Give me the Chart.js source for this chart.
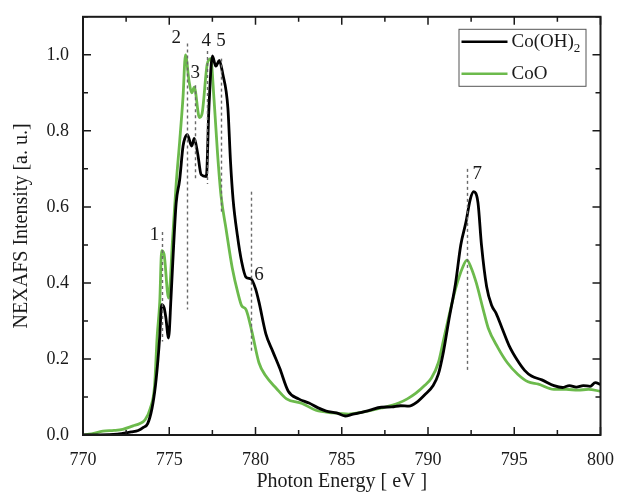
<!DOCTYPE html>
<html>
<head>
<meta charset="utf-8">
<script src="https://cdn.jsdelivr.net/npm/chart.js@4/dist/chart.umd.min.js"></script>
<style>
  html, body { margin: 0; padding: 0; background: #fff; }
  #wrap { width: 620px; height: 494px; }
</style>
</head>
<body>
<div id="wrap"><canvas id="nexafs"></canvas></div>
<script>
// Co L-edge NEXAFS spectra: Co(OH)2 vs CoO
const energyOH = [770, 771, 772, 772.3, 772.8, 773.2, 773.5, 773.75, 774.0, 774.2,
  774.35, 774.45, 774.56, 774.7, 774.8, 774.96, 775.1, 775.2, 775.4, 775.6,
  775.8, 775.9, 776.05, 776.3, 776.45, 776.65, 776.85, 777.15, 777.3, 777.5,
  777.7, 777.9, 778.1, 778.4, 778.55, 778.7, 778.95, 779.2, 779.45, 779.75,
  780.0, 780.2, 780.6, 781.0, 781.4, 781.9, 782.5, 783.1, 783.6, 784.1,
  784.7, 785.2, 785.6, 786.0, 786.6, 787.3, 787.9, 788.4, 788.9, 789.4,
  789.8, 790.3, 790.6, 790.9, 791.2, 791.6, 791.9, 792.2, 792.45, 792.65,
  792.9, 793.1, 793.4, 793.7, 793.95, 794.3, 794.7, 795.2, 795.6, 796.0,
  796.6, 797.3, 797.8, 798.2, 798.6, 799.0, 799.4, 799.7, 800];
const intensityOH = [0, 0, 0.002, 0.004, 0.008, 0.012, 0.02, 0.03, 0.07, 0.13,
  0.2, 0.26, 0.343, 0.335, 0.31, 0.255, 0.36, 0.45, 0.61, 0.67,
  0.76, 0.78, 0.79, 0.76, 0.78, 0.74, 0.685, 0.68, 0.86, 0.997,
  0.97, 0.985, 0.95, 0.86, 0.72, 0.62, 0.525, 0.455, 0.415, 0.41,
  0.385, 0.35, 0.266, 0.22, 0.176, 0.115, 0.095, 0.084, 0.072, 0.063,
  0.058, 0.05, 0.054, 0.058, 0.065, 0.073, 0.074, 0.077, 0.076, 0.088,
  0.105, 0.13, 0.16, 0.22, 0.30, 0.40, 0.50, 0.56, 0.62, 0.64,
  0.61, 0.50, 0.39, 0.34, 0.32, 0.28, 0.235, 0.195, 0.17, 0.155,
  0.145, 0.13, 0.125, 0.13, 0.126, 0.13, 0.128, 0.138, 0.133];

const energyCoO = [770, 770.5, 771.15, 771.8, 772.3, 772.9, 773.3, 773.6, 773.9, 774.15,
  774.3, 774.45, 774.56, 774.7, 774.96, 775.2, 775.4, 775.6, 775.8, 775.94,
  776.15, 776.3, 776.45, 776.75, 776.9, 777.2, 777.4, 777.6, 777.8, 778.0,
  778.3, 778.65, 779.0, 779.2, 779.45, 779.8, 780.2, 780.6, 781.2, 781.8,
  782.7, 783.5, 784.5, 785.4, 786.2, 787.3, 788.3, 788.8, 789.3, 789.8,
  790.2, 790.6, 790.9, 791.2, 791.6, 792.0, 792.26, 792.5, 792.8, 793.2,
  793.5, 794.05, 794.6, 795.2, 795.8, 796.4, 797.3, 798.0, 798.7, 799.3, 800];
const intensityCoO = [0, 0.003, 0.01, 0.012, 0.015, 0.024, 0.03, 0.04, 0.07, 0.13,
  0.26, 0.35, 0.485, 0.475, 0.36, 0.52, 0.66, 0.77, 0.89, 1.0,
  0.93, 0.90, 0.915, 0.835, 0.845, 0.975, 0.99, 0.88, 0.74, 0.63,
  0.54, 0.44, 0.37, 0.34, 0.33, 0.27, 0.19, 0.155, 0.123, 0.095,
  0.083, 0.065, 0.058, 0.055, 0.06, 0.071, 0.084, 0.095, 0.11, 0.13,
  0.15, 0.19, 0.25, 0.31, 0.385, 0.44, 0.46, 0.44, 0.40, 0.33,
  0.28, 0.23, 0.19, 0.16, 0.14, 0.134, 0.12, 0.12, 0.118, 0.12, 0.115];

// numbered features: dashed guide from markerLow to markerHigh, number at (labelEnergy, labelIntensity)
const markerNames = ['1', '2', '3', '4', '5', '6', '7'];
const markerEnergy = [774.56, 776.0, 776.5, 777.2, 778.0, 779.75, 792.26];
const markerLow = [0.246, 0.33, 0.67, 0.66, 0.58, 0.215, 0.17];
const markerHigh = [0.534, 1.03, 0.92, 1.01, 0.99, 0.64, 0.70];
const labelEnergy = [774.15, 775.4, 776.5, 777.15, 778.0, 780.2, 792.85];
const labelIntensity = [0.525, 1.045, 0.953, 1.035, 1.035, 0.42, 0.686];

const xTickValues = [770, 775, 780, 785, 790, 795, 800];
const yTickValues = [0, 0.2, 0.4, 0.6, 0.8, 1.0];

const serif = "'Liberation Serif', 'DejaVu Serif', serif";
const inkColor = '#1a1a1a';
const ohColor = '#000000';
const cooColor = '#6cba4c';

function toPoints(xs, ys) {
  return xs.map((x, i) => ({ x: x, y: ys[i] }));
}

// frame with inward major/minor ticks on all four sides
const framePlugin = {
  id: 'frame',
  afterDatasetsDraw(chart) {
    const { ctx, chartArea: a, scales } = chart;
    const xs = scales.x, ys = scales.y;
    ctx.save();
    ctx.strokeStyle = inkColor;
    ctx.lineWidth = 2;
    ctx.strokeRect(a.left, a.top, a.right - a.left, a.bottom - a.top);
    ctx.lineWidth = 1.5;
    for (let e = 770; e <= 800; e += 2.5) {
      const px = xs.getPixelForValue(e);
      const len = (e % 5 === 0) ? 8 : 5;
      ctx.beginPath();
      ctx.moveTo(px, a.bottom); ctx.lineTo(px, a.bottom - len);
      ctx.moveTo(px, a.top); ctx.lineTo(px, a.top + len);
      ctx.stroke();
    }
    for (let k = 0; k <= 11; k++) {
      const py = ys.getPixelForValue(k / 10);
      const len = (k % 2 === 0) ? 8 : 5;
      ctx.beginPath();
      ctx.moveTo(a.left, py); ctx.lineTo(a.left + len, py);
      ctx.moveTo(a.right, py); ctx.lineTo(a.right - len, py);
      ctx.stroke();
    }
    ctx.restore();
  }
};

// dashed guides with feature numbers
const markerPlugin = {
  id: 'markers',
  afterDatasetsDraw(chart) {
    const { ctx, scales } = chart;
    ctx.save();
    ctx.strokeStyle = '#6a6a6a';
    ctx.lineWidth = 1.4;
    ctx.setLineDash([3, 3]);
    markerEnergy.forEach((e, i) => {
      const px = Math.round(scales.x.getPixelForValue(e)) + 0.5;
      ctx.beginPath();
      ctx.moveTo(px, scales.y.getPixelForValue(markerHigh[i]));
      ctx.lineTo(px, scales.y.getPixelForValue(markerLow[i]));
      ctx.stroke();
    });
    ctx.setLineDash([]);
    ctx.fillStyle = inkColor;
    ctx.font = '19px ' + serif;
    ctx.textAlign = 'center';
    ctx.textBaseline = 'middle';
    markerNames.forEach((name, i) => {
      ctx.fillText(name, scales.x.getPixelForValue(labelEnergy[i]),
        scales.y.getPixelForValue(labelIntensity[i]));
    });
    ctx.restore();
  }
};

// boxed legend in the upper right corner
const legendPlugin = {
  id: 'boxLegend',
  afterDraw(chart) {
    const { ctx, chartArea: a } = chart;
    const right = a.right - 15, top = a.top + 12;
    const w = 127, h = 57;
    const left = right - w;
    ctx.save();
    ctx.fillStyle = '#fff';
    ctx.fillRect(left, top, w, h);
    ctx.strokeStyle = '#555';
    ctx.lineWidth = 1;
    ctx.strokeRect(left + 0.5, top + 0.5, w, h);
    const rows = [top + 13, top + 45];
    chart.data.datasets.forEach((ds, i) => {
      const y = rows[i];
      ctx.strokeStyle = ds.borderColor;
      ctx.lineWidth = 2.5;
      ctx.beginPath();
      ctx.moveTo(left + 3, y); ctx.lineTo(left + 49, y);
      ctx.stroke();
      ctx.fillStyle = inkColor;
      ctx.textBaseline = 'middle';
      ctx.textAlign = 'left';
      ctx.font = '19px ' + serif;
      const m = ds.label.match(/^(.*?)(\d)$/);
      if (m) {
        ctx.fillText(m[1], left + 53, y);
        const tw = ctx.measureText(m[1]).width;
        ctx.font = '13px ' + serif;
        ctx.fillText(m[2], left + 53 + tw, y + 7);
      } else {
        ctx.fillText(ds.label, left + 53, y);
      }
    });
    ctx.restore();
  }
};

new Chart(document.getElementById('nexafs'), {
  type: 'line',
  data: {
    datasets: [
      {
        label: 'Co(OH)2',
        data: toPoints(energyOH, intensityOH),
        borderColor: ohColor,
        borderWidth: 2.8,
        pointRadius: 0,
        cubicInterpolationMode: 'monotone'
      },
      {
        label: 'CoO',
        data: toPoints(energyCoO, intensityCoO),
        borderColor: cooColor,
        borderWidth: 2.8,
        pointRadius: 0,
        cubicInterpolationMode: 'monotone'
      }
    ]
  },
  options: {
    responsive: true,
    maintainAspectRatio: false,
    animation: false,
    layout: { padding: { top: 14, right: 16, left: 0, bottom: 0 } },
    plugins: {
      legend: { display: false },
      tooltip: { enabled: false }
    },
    scales: {
      x: {
        type: 'linear',
        min: 770,
        max: 800,
        grid: { display: false },
        border: { display: false },
        afterBuildTicks: (s) => { s.ticks = xTickValues.map(v => ({ value: v })); },
        afterFit: (s) => { s.height = 59; },
        ticks: {
          color: inkColor,
          font: { family: serif, size: 18 },
          padding: 6,
          maxRotation: 0,
          callback: (v) => String(v)
        },
        title: {
          display: true,
          text: 'Photon Energy [ eV ]',
          color: inkColor,
          font: { family: serif, size: 20 },
          padding: { top: 0, bottom: 0 }
        }
      },
      y: {
        min: 0,
        max: 1.1,
        grid: { display: false },
        border: { display: false },
        afterBuildTicks: (s) => { s.ticks = yTickValues.map(v => ({ value: v })); },
        afterFit: (s) => { s.width = 83; },
        ticks: {
          color: inkColor,
          font: { family: serif, size: 18 },
          padding: 6,
          callback: (v) => Number(v).toFixed(1)
        },
        title: {
          display: true,
          text: 'NEXAFS Intensity [a. u.]',
          color: inkColor,
          font: { family: serif, size: 20 },
          padding: { top: 10, bottom: 0 }
        }
      }
    }
  },
  plugins: [framePlugin, markerPlugin, legendPlugin]
});
</script>
</body>
</html>
